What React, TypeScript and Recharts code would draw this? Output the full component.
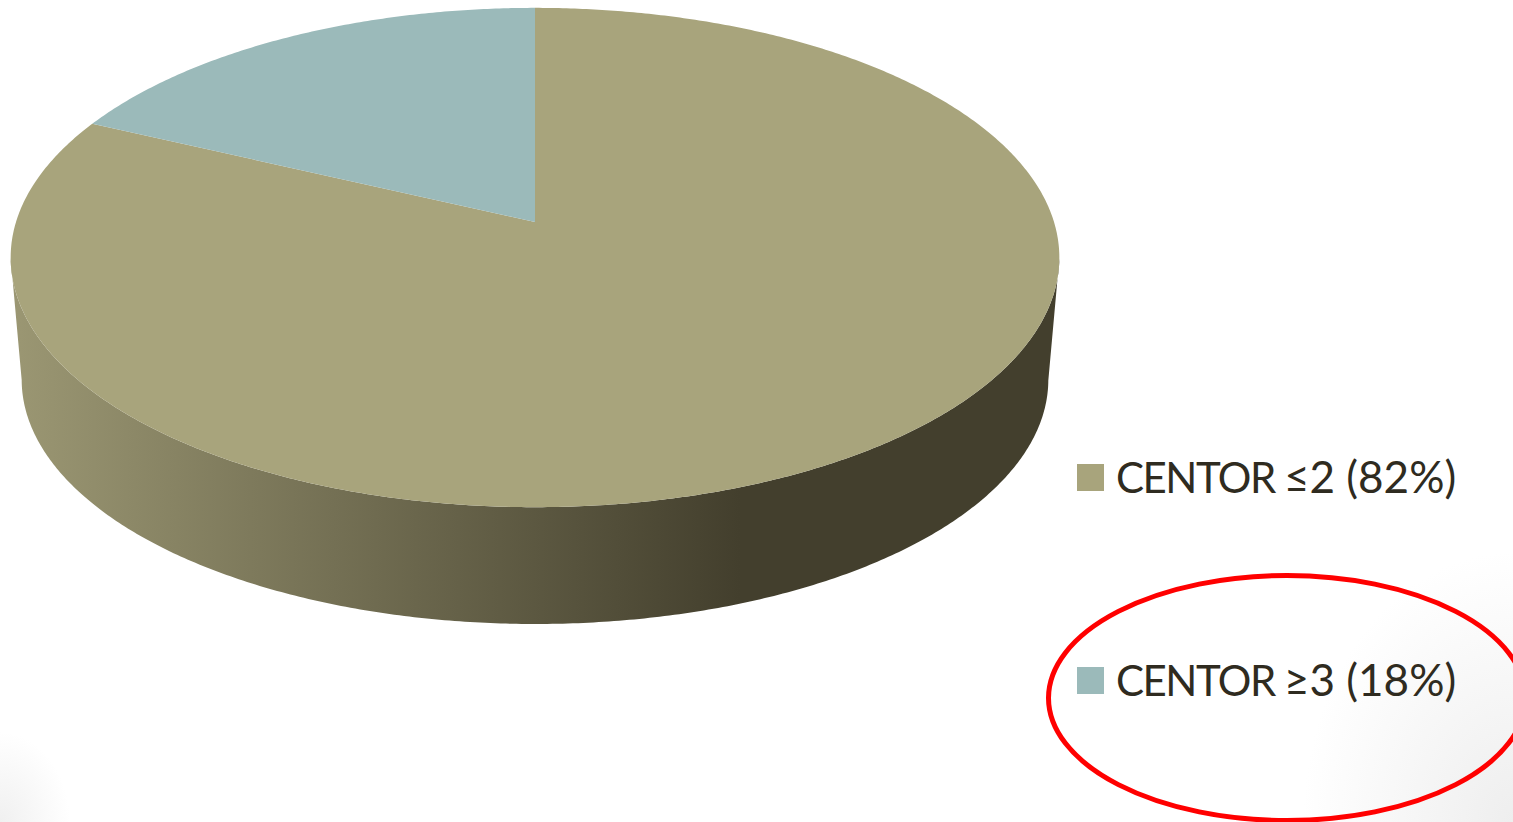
import { Cell, Legend, Pie, PieChart } from "recharts";

const categories = ["CENTOR ≤2 (82%)", "CENTOR ≥3 (18%)"];
const shares = [82, 18];
const sliceColors = ["#a8a47c", "#9bbaba"];

const data = categories.map((name, i) => ({ name, value: shares[i] }));

const WIDTH = 1513;
const HEIGHT = 822;

// Perspective of the tilted disc: c foreshortens toward the back, tilt flattens
// the circle, and the lower rim shrinks toward a vanishing point below the pie.
const PERSPECTIVE = 0.1423;
const TILT = 0.4713;
const RIM_SCALE = 0.979;
const VANISH_Y = 5848;
const RAD = Math.PI / 180;

const project = (angle: number, cx: number, cy: number, r: number) => {
  const u = Math.cos(angle * RAD);
  const v = Math.sin(angle * RAD);
  const d = 1 + PERSPECTIVE * v;
  return { x: cx + (r * u) / d, y: cy - (r * TILT * v) / d, v };
};

const toLower = (p: { x: number; y: number }, cx: number, cy: number) => ({
  x: cx + (p.x - cx) * RIM_SCALE,
  y: cy + VANISH_Y - (cy + VANISH_Y - p.y) * RIM_SCALE,
});

const toPath = (pts: { x: number; y: number }[]) =>
  pts.map((p, i) => `${i ? "L" : "M"}${p.x.toFixed(2)} ${p.y.toFixed(2)}`).join("") + "Z";

// Draws one slice as a top face plus the part of its side wall facing the viewer.
const Slice3D = (props: any) => {
  const { cx, cy, outerRadius, startAngle, endAngle, fill } = props;
  const steps = Math.max(2, Math.ceil(Math.abs(endAngle - startAngle) * 2));
  const arc = [];
  for (let i = 0; i <= steps; i++) {
    arc.push(project(startAngle + ((endAngle - startAngle) * i) / steps, cx, cy, outerRadius));
  }
  const front = arc.filter((p) => p.v < -PERSPECTIVE);
  return (
    <g>
      {front.length > 1 && (
        <path
          d={toPath([...front, ...[...front].reverse().map((p) => toLower(p, cx, cy))])}
          fill="url(#wallShade)"
        />
      )}
      <path d={toPath([{ x: cx, y: cy }, ...arc])} fill={fill} />
    </g>
  );
};

const LegendList = ({ payload }: any) => (
  <div>
    {(payload ?? []).map((item: any) => {
      const gap = item.value.indexOf(" ");
      return (
        <div key={item.value} style={{ display: "flex", alignItems: "center", height: 203 }}>
          <span style={{ width: 27, height: 27, background: item.color, marginRight: 12 }} />
          <span
            style={{
              fontFamily: "Lato, sans-serif",
              fontSize: 42,
              lineHeight: "50px",
              color: "#2f2b20",
              whiteSpace: "pre",
              marginTop: -3,
            }}
          >
            <span style={{ letterSpacing: -1.5 }}>{item.value.slice(0, gap)}</span>
            <span style={{ fontSize: 44, marginLeft: -2 }}>{item.value.slice(gap)}</span>
          </span>
        </div>
      );
    })}
  </div>
);

export default function App() {
  return (
    <div
      style={{
        position: "absolute",
        left: 0,
        top: 0,
        width: WIDTH,
        height: HEIGHT,
        overflow: "hidden",
        background:
          "radial-gradient(ellipse 210px 270px at 100% 100%, #eeeeee, rgba(255,255,255,0) 100%), radial-gradient(ellipse 70px 90px at 0% 100%, #f0f0f0, rgba(255,255,255,0) 100%), #fff",
      }}
    >
      <PieChart width={WIDTH} height={HEIGHT} margin={{ top: 0, right: 0, bottom: 0, left: 0 }}>
        <defs>
          <linearGradient id="wallShade" gradientUnits="userSpaceOnUse" x1={11} x2={740} y1={0} y2={0}>
            <stop offset="0" stopColor="#9b9773" />
            <stop offset="1" stopColor="#433f2d" />
          </linearGradient>
        </defs>
        <Pie
          data={data}
          dataKey="value"
          nameKey="name"
          cx={535}
          cy={222}
          innerRadius={0}
          outerRadius={519}
          startAngle={90}
          endAngle={-270}
          stroke="none"
          shape={Slice3D}
          isAnimationActive={false}
        >
          {categories.map((name, i) => (
            <Cell key={name} fill={sliceColors[i]} />
          ))}
        </Pie>
        <Legend
          content={<LegendList />}
          wrapperStyle={{ left: 1077, top: 376, width: 430, bottom: "auto" }}
        />
        <ellipse cx={1287} cy={698} rx={238.5} ry={122.5} fill="none" stroke="#ff0000" strokeWidth={5} />
      </PieChart>
    </div>
  );
}
